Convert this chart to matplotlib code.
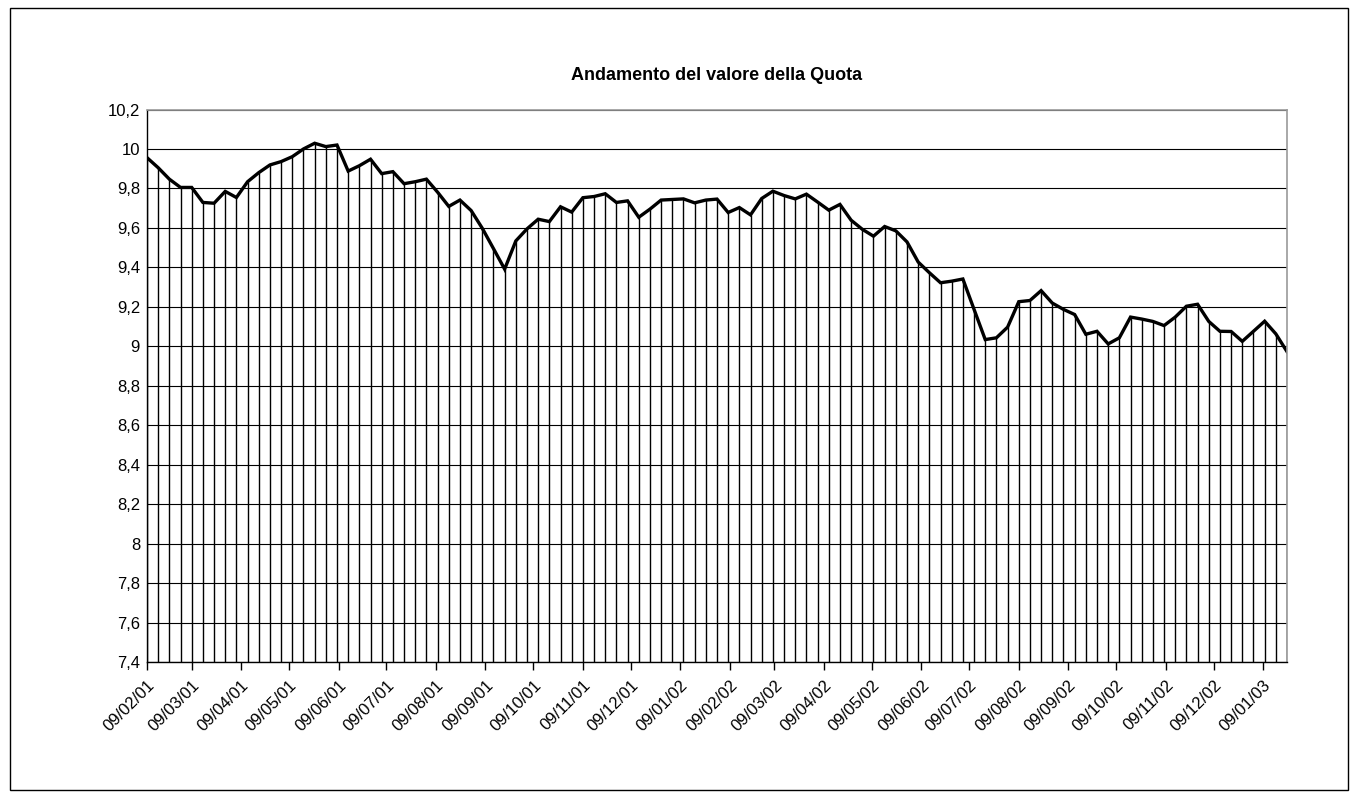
# Andamento settimanale del valore della quota, stile grafico Excel
import pandas as pd
import matplotlib
matplotlib.use('Agg')
import matplotlib.pyplot as plt
import matplotlib.dates as mdates
from matplotlib.patches import Rectangle
from matplotlib.ticker import FuncFormatter

plt.rcParams['font.family'] = ['Liberation Sans', 'DejaVu Sans']

# date settimanali (venerdì) dal 09/02/01
date = pd.date_range('2001-02-09', periods=103, freq='7D')

# valore della quota
valori = [
    9.956, 9.905, 9.847, 9.805, 9.805, 9.729, 9.725, 9.785, 9.754, 9.834,
    9.880, 9.919, 9.936, 9.961, 10.000, 10.029, 10.012, 10.020, 9.888, 9.915,
    9.948, 9.875, 9.885, 9.824, 9.834, 9.847, 9.781, 9.709, 9.741, 9.688,
    9.598, 9.495, 9.391, 9.534, 9.595, 9.644, 9.632, 9.707, 9.680, 9.753,
    9.759, 9.773, 9.729, 9.737, 9.654, 9.695, 9.741, 9.744, 9.747, 9.727,
    9.741, 9.746, 9.678, 9.703, 9.666, 9.749, 9.786, 9.764, 9.747, 9.771,
    9.731, 9.690, 9.719, 9.639, 9.593, 9.558, 9.607, 9.585, 9.529, 9.427,
    9.373, 9.322, 9.330, 9.341, 9.187, 9.034, 9.043, 9.097, 9.226, 9.232,
    9.282, 9.219, 9.187, 9.161, 9.061, 9.076, 9.012, 9.043, 9.148, 9.138,
    9.126, 9.105, 9.148, 9.203, 9.213, 9.126, 9.076, 9.075, 9.025, 9.076,
    9.127, 9.063, 8.973,
]

y_min, y_max = 7.4, 10.2
titolo = 'Andamento del valore della Quota'

fig = plt.figure(figsize=(13.58, 7.98), dpi=100)
ax = fig.add_axes([147 / 1358, 136 / 798, 1140 / 1358, 552.5 / 798])

# bordo dell'area del grafico
fig.patches.append(Rectangle((10 / 1358, 8 / 798), 1338 / 1358, 782 / 798,
                             transform=fig.transFigure, fill=False,
                             edgecolor='black', lw=1))

# griglia orizzontale
ax.set_ylim(y_min, y_max)
ax.set_yticks([y_min + 0.2 * k for k in range(15)])
ax.yaxis.grid(True, color='black', lw=0.8)
ax.set_axisbelow(True)

# linee di proiezione e linea principale
ax.vlines(date, y_min, valori, colors='black', lw=1.0)
ax.plot(date, valori, color='black', lw=2.4, solid_joinstyle='miter')

ax.set_xlim(date[0], date[-1])
ax.xaxis.set_major_locator(mdates.MonthLocator(bymonthday=9))
ax.xaxis.set_major_formatter(mdates.DateFormatter('%d/%m/%y'))
ax.yaxis.set_major_formatter(FuncFormatter(lambda v, p: f'{v:g}'.replace('.', ',')))

ax.tick_params(axis='x', direction='out', length=6, width=1, labelsize=12, pad=5)
ax.tick_params(axis='y', direction='out', length=0, labelsize=12, pad=5)
for lab in ax.get_xticklabels():
    lab.set_rotation(45)
    lab.set_ha('right')
    lab.set_rotation_mode('anchor')

for s in ['top', 'right']:
    ax.spines[s].set_color('#999999')
    ax.spines[s].set_linewidth(1.2)
for s in ['left', 'bottom']:
    ax.spines[s].set_color('black')
    ax.spines[s].set_linewidth(1.0)

fig.text(717 / 1358, 1 - 75 / 798, titolo, ha='center', va='center',
         fontsize=13, fontweight='bold')

fig.savefig('out.png', dpi=100)
